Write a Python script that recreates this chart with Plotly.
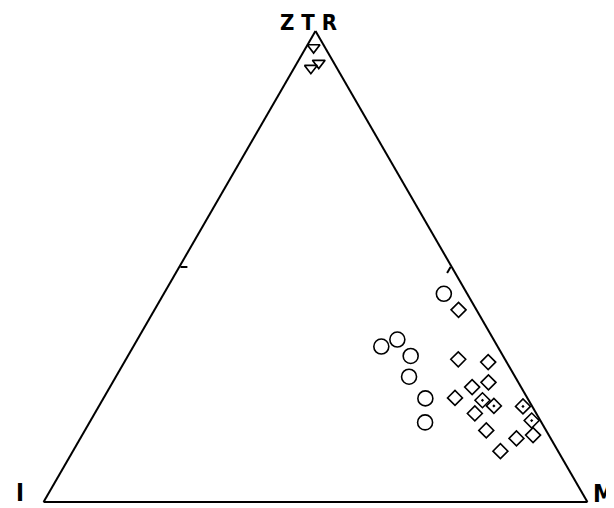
import plotly.graph_objects as go

# Ternary compositions (percent): ZTR (a, top), I (b, bottom-left), M (c, bottom-right)
circ_ztr = [44.2, 34.5, 33.0, 31.0, 26.6, 22.0, 16.9]
circ_i   = [4.3, 17.7, 21.4, 17.0, 19.5, 18.8, 21.4]
circ_m   = [51.5, 47.8, 45.6, 52.0, 53.9, 59.2, 61.7]

dia_ztr = [40.8, 30.3, 29.7, 25.4, 24.4, 22.1, 21.6, 20.4, 18.8, 20.3, 17.3, 15.2, 13.5, 14.2, 10.8]
dia_i   = [3.3, 8.6, 3.4, 5.5, 9.0, 13.3, 8.5, 7.0, 11.3, 1.7, 1.6, 11.0, 6.3, 2.9, 10.6]
dia_m   = [55.9, 61.1, 66.9, 69.1, 66.6, 64.6, 69.9, 72.6, 69.9, 78.0, 81.1, 73.8, 80.2, 82.9, 78.6]
dia_dot = [False, False, False, False, False, False, True, True, False, True, True, False, False, False, False]

tri_ztr = [96.5, 93.2, 92.1]
tri_i   = [2.1, 2.8, 4.8]
tri_m   = [1.4, 4.0, 3.1]

W, H = 614, 508
OFF = 8  # browser default body margin


def px(x):
    return (x - OFF) / W


def py(y):
    return 1 - (y - OFF) / H


fig = go.Figure()
fig.add_trace(go.Scatterternary(
    a=circ_ztr, b=circ_i, c=circ_m, mode="markers",
    marker=dict(symbol="circle-open", size=15, color="black", line=dict(width=1.6)),
    showlegend=False))
fig.add_trace(go.Scatterternary(
    a=dia_ztr, b=dia_i, c=dia_m, mode="markers",
    marker=dict(symbol=["diamond-open-dot" if d else "diamond-open" for d in dia_dot],
                size=11.5, color="black", line=dict(width=1.6)),
    showlegend=False))
fig.add_trace(go.Scatterternary(
    a=tri_ztr, b=tri_i, c=tri_m, mode="markers",
    marker=dict(symbol="triangle-down-open", size=11, color="black", line=dict(width=1.7)),
    showlegend=False))

axis_common = dict(showgrid=False, showline=True, linecolor="black", linewidth=2,
                   showticklabels=False, title=dict(text=""), min=0)

fig.update_layout(
    width=W, height=H,
    margin=dict(l=0, r=0, t=0, b=0),
    paper_bgcolor="white",
    ternary=dict(
        sum=100,
        bgcolor="white",
        domain=dict(x=[px(41), px(590)], y=[py(502), py(31)]),
        aaxis=dict(**axis_common, tickmode="array", tickvals=[50], ticks="inside",
                   ticklen=7, tickwidth=1.5, tickcolor="black"),
        baxis=dict(**axis_common, ticks=""),
        caxis=dict(**axis_common, tickmode="array", tickvals=[50], ticks="inside",
                   ticklen=7, tickwidth=1.5, tickcolor="black"),
    ),
    font=dict(family="Liberation Sans Narrow, DejaVu Sans Condensed, sans-serif", color="black"),
)

lab_font = dict(family="Liberation Sans Narrow, DejaVu Sans Condensed, sans-serif", size=22, color="black")
fig.add_annotation(text="<b>Z T R</b>", x=px(308), y=py(23), xref="paper", yref="paper",
                   showarrow=False, font=lab_font, xanchor="center", yanchor="middle")
fig.add_annotation(text="<b>I</b>", x=px(20), y=py(493), xref="paper", yref="paper",
                   showarrow=False, font=dict(lab_font, size=24), xanchor="center", yanchor="middle")
fig.add_annotation(text="<b>M</b>", x=px(604), y=py(494), xref="paper", yref="paper",
                   showarrow=False, font=dict(lab_font, size=24), xanchor="center", yanchor="middle")

fig.write_html("out.html")
